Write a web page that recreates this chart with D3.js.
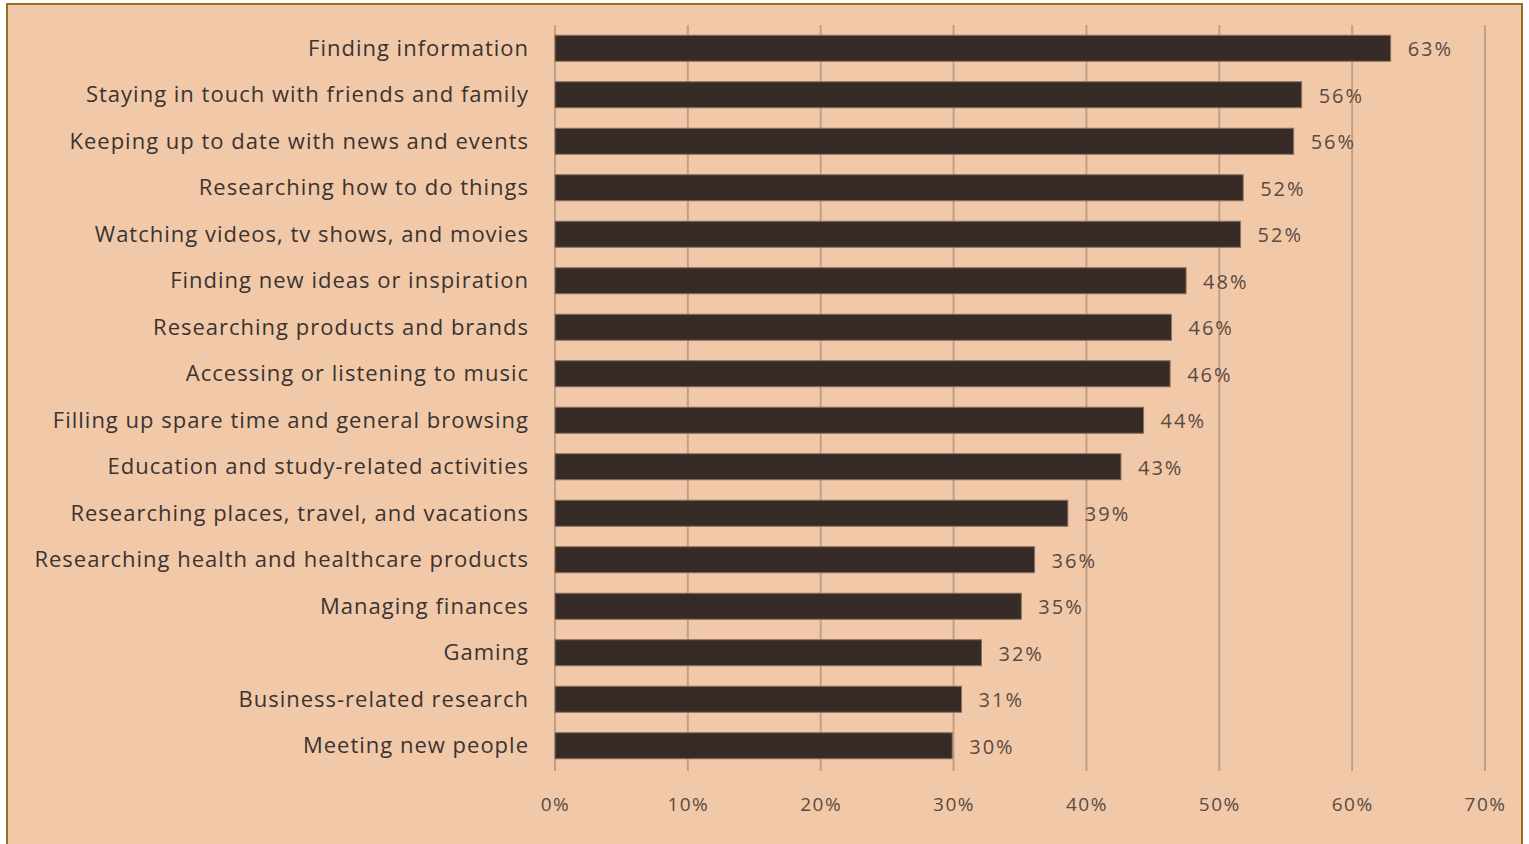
<!DOCTYPE html>
<html>
<head>
<meta charset="utf-8">
<script src="https://cdn.jsdelivr.net/npm/d3@7"></script>
<style>
  body { margin: 0; background: #fff; }
  svg { display: block; }
</style>
</head>
<body>
<div id="chart"></div>
<script>
var categories = [
  "Finding information",
  "Staying in touch with friends and family",
  "Keeping up to date with news and events",
  "Researching how to do things",
  "Watching videos, tv shows, and movies",
  "Finding new ideas or inspiration",
  "Researching products and brands",
  "Accessing or listening to music",
  "Filling up spare time and general browsing",
  "Education and study-related activities",
  "Researching places, travel, and vacations",
  "Researching health and healthcare products",
  "Managing finances",
  "Gaming",
  "Business-related research",
  "Meeting new people"
];
var values = [62.9, 56.2, 55.6, 51.8, 51.6, 47.5, 46.4, 46.3, 44.3, 42.6, 38.6, 36.1, 35.1, 32.1, 30.6, 29.9];
var tickValues = [0, 10, 20, 30, 40, 50, 60, 70];

var width = 1529, height = 844;
var data = categories.map(function(c, i) { return { name: c, value: values[i] }; });

var svg = d3.select("#chart")
  .append("svg")
  .attr("width", width)
  .attr("height", height);

// background panel with border
svg.append("rect")
  .attr("x", 7)
  .attr("y", 4)
  .attr("width", 1515)
  .attr("height", 850)
  .attr("fill", "#f1c9a9")
  .attr("stroke", "#9c6b22")
  .attr("stroke-width", 2);

var x = d3.scaleLinear().domain([0, 70]).range([555, 1485]);
var y = d3.scaleBand().domain(categories).range([25, 769]).paddingInner(0.44).paddingOuter(0.22);

// gridlines
svg.append("g")
  .selectAll("line")
  .data(tickValues)
  .enter()
  .append("line")
  .attr("x1", function(d) { return x(d); })
  .attr("x2", function(d) { return x(d); })
  .attr("y1", 25)
  .attr("y2", 771)
  .attr("stroke", "#c2a086")
  .attr("stroke-width", 2);

// bars
svg.append("g")
  .selectAll("rect")
  .data(data)
  .enter()
  .append("rect")
  .attr("x", x(0))
  .attr("y", function(d) { return y(d.name); })
  .attr("width", function(d) { return x(d.value) - x(0); })
  .attr("height", y.bandwidth())
  .attr("fill", "#362b26")
  .attr("stroke", "#8c715f")
  .attr("stroke-width", 1);

// category labels
svg.append("g")
  .selectAll("text")
  .data(data)
  .enter()
  .append("text")
  .attr("x", 529)
  .attr("y", function(d) { return y(d.name) + y.bandwidth() / 2; })
  .attr("dy", "0.35em")
  .attr("text-anchor", "end")
  .style("font-family", "'Open Sans', sans-serif")
  .style("font-size", "22px")
  .style("letter-spacing", "1px")
  .style("fill", "#3b3330")
  .text(function(d) { return d.name; });

// value labels
svg.append("g")
  .selectAll("text")
  .data(data)
  .enter()
  .append("text")
  .attr("x", function(d) { return x(d.value) + 17; })
  .attr("y", function(d) { return y(d.name) + y.bandwidth() / 2 + 1; })
  .attr("dy", "0.35em")
  .style("font-family", "'Open Sans', sans-serif")
  .style("font-size", "20px")
  .style("letter-spacing", "2px")
  .style("fill", "#5a4a41")
  .text(function(d) { return Math.round(d.value) + "%"; });

// x axis labels
var axis = d3.axisBottom(x)
  .tickValues(tickValues)
  .tickFormat(function(d) { return d + "%"; })
  .tickSize(0)
  .tickPadding(0);
var gx = svg.append("g")
  .attr("transform", "translate(0,804)")
  .call(axis);
gx.select(".domain").remove();
gx.selectAll("text")
  .attr("dy", "0.35em")
  .style("font-family", "'Open Sans', sans-serif")
  .style("font-size", "19px")
  .style("letter-spacing", "1.5px")
  .style("fill", "#5a4a41");
</script>
</body>
</html>
